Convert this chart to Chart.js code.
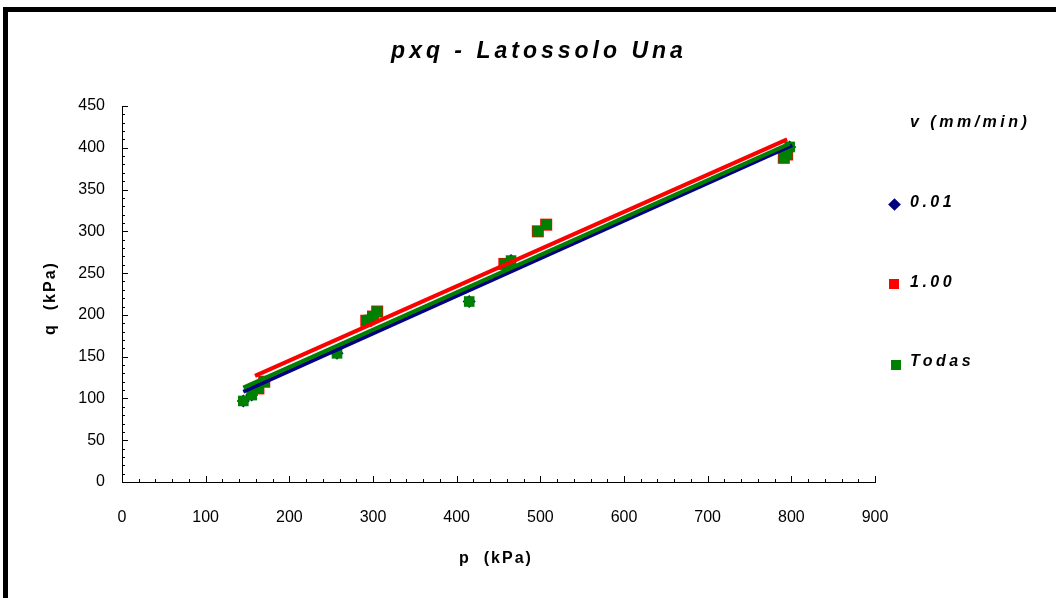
<!DOCTYPE html>
<html>
<head>
<meta charset="utf-8">
<script src="https://cdn.jsdelivr.net/npm/chart.js@4.4.0/dist/chart.umd.min.js"></script>
<style>
    html, body { margin: 0; padding: 0; background: #fff; }
    body { width: 1056px; height: 598px; position: relative; overflow: hidden; font-family: "Liberation Sans", Arial, sans-serif; color: #000; }
    #wrap { position: absolute; left: 0; top: 0; width: 1056px; height: 598px; }
    #frame { position: absolute; left: 3px; top: 7px; width: 1100px; height: 700px; border: 5px solid #000; box-sizing: border-box; pointer-events: none; }
    #title { position: absolute; left: 337px; top: 37px; width: 404px; text-align: center; font: italic bold 23px "Liberation Sans", Arial, sans-serif; letter-spacing: 4px; }
    .lg { position: absolute; font: italic bold 16px "Liberation Sans", Arial, sans-serif; letter-spacing: 3.5px; white-space: nowrap; }
    .ax { position: absolute; font: bold 16px "Liberation Sans", Arial, sans-serif; letter-spacing: 2px; white-space: nowrap; text-align: center; width: 120px; }
    .mk { position: absolute; }
</style>
</head>
<body>
<div id="wrap"><canvas id="pqChart" width="1056" height="598"></canvas></div>
<div id="title">pxq - Latossolo Una</div>

<div class="ax" style="left:436px; top:549px;">p&nbsp; (kPa)</div>
<div class="ax" style="left:-10px; top:289px; transform:rotate(-90deg);">q&nbsp; (kPa)</div>

<div class="lg" style="left:910px; top:113px;">v (mm/min)</div>
<div class="mk" style="left:890px; top:200px; width:9px; height:9px; background:#000080; transform:rotate(45deg);"></div>
<div class="lg" style="left:910px; top:193px;">0.01</div>
<div class="mk" style="left:889px; top:279px; width:10px; height:10px; background:#ff0000;"></div>
<div class="lg" style="left:910px; top:273px;">1.00</div>
<div class="mk" style="left:891px; top:360px; width:10px; height:10px; background:#008000;"></div>
<div class="lg" style="left:910px; top:352px;">Todas</div>

<div id="frame"></div>

<script>
// p (kPa) / q (kPa)
const p001 = [145, 155, 257, 296, 415, 465, 798];
const q001 = [97, 104, 154, 194, 216, 265, 401];

const p100 = [163, 170, 292, 300, 305, 457, 497, 507, 791, 795];
const q100 = [112, 120, 193, 198, 204, 261, 300, 308, 388, 392];

// fitted lines as drawn in the original
const trendP001 = [145, 801];
const trendQ001 = [108, 403];
const trendP100 = [159, 795];
const trendQ100 = [127, 410];
const trendPAll = [145, 798];
const trendQAll = [113, 405];

const xMax = 900, xStep = 100, xMinor = 20;
const yMax = 450, yStep = 50, yMinor = 10;

const toPts = (px, qy) => px.map((v, i) => ({ x: v, y: qy[i] }));

// tick marks drawn inward, like the original
const innerTicks = {
    id: 'innerTicks',
    afterDraw(chart) {
        const { ctx, chartArea } = chart;
        const x = chart.scales.x, y = chart.scales.y;
        ctx.save();
        ctx.strokeStyle = '#000';
        ctx.lineWidth = 1;
        ctx.beginPath();
        for (let v = yMinor; v <= yMax; v += yMinor) {
            const py = Math.round(y.getPixelForValue(v)) + 0.5;
            const len = v % yStep === 0 ? 6 : 3;
            ctx.moveTo(chartArea.left, py);
            ctx.lineTo(chartArea.left + len, py);
        }
        for (let v = xMinor; v <= xMax; v += xMinor) {
            const px = Math.round(x.getPixelForValue(v)) + 0.5;
            const len = v % xStep === 0 ? 6 : 3;
            ctx.moveTo(px, chartArea.bottom);
            ctx.lineTo(px, chartArea.bottom - len);
        }
        ctx.stroke();
        ctx.restore();
    }
};

const tickFont = { family: '"Liberation Sans", Arial, sans-serif', size: 16 };

new Chart(document.getElementById('pqChart'), {
    type: 'scatter',
    data: {
        datasets: [
            { label: '0.01 fit', data: toPts(trendP001, trendQ001), showLine: true, borderColor: '#000080', borderWidth: 4, pointRadius: 0, order: 2 },
            { label: 'Todas fit', data: toPts(trendPAll, trendQAll), showLine: true, borderColor: '#008000', borderWidth: 4, pointRadius: 0, order: 1 },
            { label: '1.00 fit', data: toPts(trendP100, trendQ100), showLine: true, borderColor: '#ff0000', borderWidth: 4, pointRadius: 0, order: 0 },
            { label: 'Todas', data: toPts(p001.concat(p100), q001.concat(q100)), pointStyle: 'rect', pointRadius: 7.5, backgroundColor: '#008000', borderWidth: 0, order: 3 },
            { label: '1.00', data: toPts(p100, q100), pointStyle: 'rect', pointRadius: 8.5, backgroundColor: '#ff0000', borderWidth: 0, order: 4 },
            { label: '0.01', data: toPts(p001, q001), pointStyle: 'rectRot', pointRadius: 6.5, backgroundColor: '#000080', borderWidth: 0, order: 5 }
        ]
    },
    options: {
        responsive: false,
        animation: false,
        events: [],
        layout: { padding: { top: 106, right: 181, bottom: 0, left: 0 } },
        plugins: {
            legend: { display: false },
            title: { display: false },
            tooltip: { enabled: false }
        },
        scales: {
            x: {
                type: 'linear',
                min: 0,
                max: xMax,
                afterFit(scale) { scale.height = 116; },
                grid: { display: false, drawTicks: false },
                border: { display: true, color: '#000', width: 1 },
                ticks: { stepSize: xStep, font: tickFont, color: '#000', padding: 26, maxRotation: 0 }
            },
            y: {
                type: 'linear',
                min: 0,
                max: yMax,
                afterFit(scale) { scale.width = 122; },
                grid: { display: false, drawTicks: false },
                border: { display: true, color: '#000', width: 1 },
                ticks: { stepSize: yStep, font: tickFont, color: '#000', padding: 17 }
            }
        }
    },
    plugins: [innerTicks]
});
</script>
</body>
</html>
